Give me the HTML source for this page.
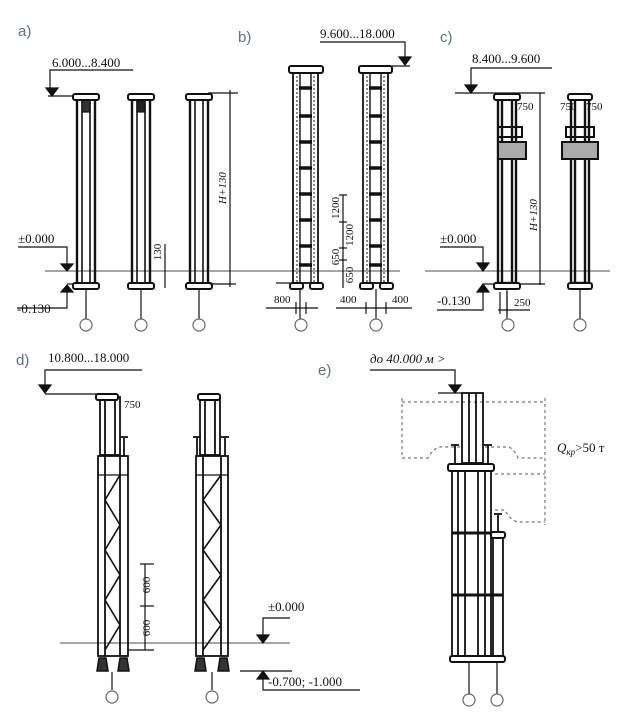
<!DOCTYPE html>
<html><head><meta charset="utf-8"><style>
html,body{margin:0;padding:0;background:#fff;}
svg{display:block}
.t{font-family:"Liberation Serif",serif;font-size:13px;fill:#111}
.s{font-family:"Liberation Serif",serif;font-size:11px;fill:#111}
.lb{font-family:"Liberation Sans",sans-serif;font-size:15px;fill:#5a6f8a}
</style></head><body>
<svg width="630" height="725" viewBox="0 0 630 725" xmlns="http://www.w3.org/2000/svg">
<g stroke="#111" fill="none" stroke-width="1.2">

<!-- ===== Panel a ===== -->
<text class="lb" x="18" y="36" stroke="none">a)</text>
<text class="t" x="52" y="67" stroke="none">6.000...8.400</text>
<path d="M133,70 H50 V90"/><path d="M46,88 L58,88 L52,96z" fill="#111"/>
<line x1="48" y1="96" x2="100" y2="96"/>
<line x1="45" y1="271" x2="290" y2="271" stroke-width="0.8"/>
<text class="t" x="18" y="243" stroke="none">±0.000</text>
<path d="M18,247 H67 V264"/><path d="M61,264 L73,264 L67,271z" fill="#111"/>
<text class="t" x="17" y="313" stroke="none">-0.130</text>
<path d="M17,308 H67 V292"/><path d="M61,292 L73,292 L67,285z" fill="#111"/>
<line x1="67" y1="284" x2="80" y2="284"/>
<g stroke-width="2.4">
 <rect x="77" y="98" width="18" height="186"/>
 <rect x="132" y="98" width="18" height="186"/>
 <rect x="190" y="98" width="18" height="186"/>
</g>
<g stroke-width="1.6">
 <line x1="82" y1="98" x2="82" y2="284"/><line x1="90" y1="98" x2="90" y2="284"/>
 <line x1="137" y1="98" x2="137" y2="284"/><line x1="145" y1="98" x2="145" y2="284"/>
 <line x1="195" y1="98" x2="195" y2="284"/><line x1="203" y1="98" x2="203" y2="284"/>
</g>
<rect x="82" y="100" width="8" height="12" fill="#333"/>
<rect x="137" y="100" width="8" height="12" fill="#222"/>
<g fill="#fff" stroke-width="2">
 <rect x="73" y="94" width="26" height="6" rx="2"/><rect x="128" y="94" width="26" height="6" rx="2"/><rect x="186" y="94" width="26" height="6" rx="2"/>
 <rect x="73" y="283" width="26" height="6" rx="2"/><rect x="128" y="283" width="26" height="6" rx="2"/><rect x="186" y="283" width="26" height="6" rx="2"/>
</g>
<line x1="86" y1="289" x2="86" y2="319"/><line x1="141" y1="289" x2="141" y2="319"/><line x1="199" y1="289" x2="199" y2="319"/>
<circle cx="86" cy="325" r="6" stroke="#666"/><circle cx="141" cy="325" r="6" stroke="#666"/><circle cx="199" cy="325" r="6" stroke="#666"/>
<line x1="208" y1="93" x2="238" y2="93"/><line x1="230" y1="90" x2="230" y2="287"/><line x1="210" y1="284" x2="236" y2="284"/>
<text class="s" transform="translate(226,188) rotate(-90)" text-anchor="middle" stroke="none" font-style="italic">H+130</text>
<line x1="165" y1="244" x2="165" y2="288"/>
<text class="s" transform="translate(161,252) rotate(-90)" text-anchor="middle" stroke="none">130</text>

<!-- ===== Panel b ===== -->
<text class="lb" x="238" y="42" stroke="none">b)</text>
<text class="t" x="320" y="38" stroke="none">9.600...18.000</text>
<path d="M320,42 H405 V58"/><path d="M399,57 L411,57 L405,65z" fill="#111"/>
<line x1="392" y1="66" x2="410" y2="66"/>
<g stroke-width="1.8">
 <rect x="293" y="72" width="25" height="211"/><rect x="363" y="72" width="25" height="211"/>
</g>
<g stroke-width="1" stroke-dasharray="2,2">
 <line x1="297" y1="72" x2="297" y2="283"/><line x1="314" y1="72" x2="314" y2="283"/>
 <line x1="367" y1="72" x2="367" y2="283"/><line x1="384" y1="72" x2="384" y2="283"/>
</g>
<g stroke-width="1.4">
 <line x1="300" y1="72" x2="300" y2="283"/><line x1="311" y1="72" x2="311" y2="283"/>
 <line x1="370" y1="72" x2="370" y2="283"/><line x1="381" y1="72" x2="381" y2="283"/>
</g>
<g stroke-width="3.5">
 <line x1="299" y1="88" x2="312" y2="88"/><line x1="299" y1="116" x2="312" y2="116"/><line x1="299" y1="142" x2="312" y2="142"/><line x1="299" y1="168" x2="312" y2="168"/><line x1="299" y1="194" x2="312" y2="194"/><line x1="299" y1="220" x2="312" y2="220"/><line x1="299" y1="246" x2="312" y2="246"/><line x1="299" y1="265" x2="312" y2="265"/>
 <line x1="369" y1="88" x2="382" y2="88"/><line x1="369" y1="116" x2="382" y2="116"/><line x1="369" y1="142" x2="382" y2="142"/><line x1="369" y1="168" x2="382" y2="168"/><line x1="369" y1="194" x2="382" y2="194"/><line x1="369" y1="220" x2="382" y2="220"/><line x1="369" y1="246" x2="382" y2="246"/><line x1="369" y1="265" x2="382" y2="265"/>
</g>
<g fill="#fff" stroke-width="2">
 <rect x="289" y="66" width="34" height="7" rx="2"/><rect x="359" y="66" width="33" height="7" rx="2"/>
 <rect x="290" y="283" width="13" height="6" rx="2"/><rect x="310" y="283" width="13" height="6" rx="2"/>
 <rect x="360" y="283" width="13" height="6" rx="2"/><rect x="380" y="283" width="13" height="6" rx="2"/>
</g>
<line x1="276" y1="283" x2="290" y2="283"/>
<line x1="290" y1="271" x2="400" y2="271" stroke-width="0.8"/>
<line x1="300" y1="289" x2="300" y2="319"/><line x1="376" y1="289" x2="376" y2="319"/>
<circle cx="301" cy="325" r="6" stroke="#666"/><circle cx="376" cy="325" r="6" stroke="#666"/>
<line x1="266" y1="308" x2="318" y2="308"/><line x1="296" y1="302" x2="296" y2="314"/><line x1="306" y1="302" x2="306" y2="314"/>
<text class="s" x="274" y="303" stroke="none">800</text>
<line x1="336" y1="308" x2="412" y2="308"/><line x1="366" y1="302" x2="366" y2="314"/><line x1="386" y1="302" x2="386" y2="314"/>
<text class="s" x="340" y="303" stroke="none">400</text><text class="s" x="392" y="303" stroke="none">400</text>
<line x1="343" y1="195" x2="343" y2="288"/>
<line x1="339" y1="195" x2="347" y2="195"/><line x1="339" y1="222" x2="347" y2="222"/><line x1="339" y1="248" x2="347" y2="248"/><line x1="339" y1="260" x2="347" y2="260"/>
<text class="s" transform="translate(339,208) rotate(-90)" text-anchor="middle" stroke="none">1200</text>
<text class="s" transform="translate(339,257) rotate(-90)" text-anchor="middle" stroke="none">650</text>
<text class="s" transform="translate(353,235) rotate(-90)" text-anchor="middle" stroke="none">1200</text>
<text class="s" transform="translate(353,275) rotate(-90)" text-anchor="middle" stroke="none">650</text>

<!-- ===== Panel c ===== -->
<text class="lb" x="440" y="42" stroke="none">c)</text>
<text class="t" x="472" y="63" stroke="none">8.400...9.600</text>
<path d="M552,68 H471 V86"/><path d="M465,85 L477,85 L471,93z" fill="#111"/>
<line x1="455" y1="93" x2="545" y2="93"/>
<line x1="540" y1="93" x2="540" y2="285"/><line x1="520" y1="284" x2="545" y2="284"/>
<text class="s" transform="translate(537,215) rotate(-90)" text-anchor="middle" stroke="none" font-style="italic">H+130</text>
<text class="t" x="440" y="243" stroke="none">±0.000</text>
<path d="M440,247 H483 V264"/><path d="M477,263 L489,263 L483,271z" fill="#111"/>
<text class="t" x="437" y="305" stroke="none">-0.130</text>
<path d="M437,310 H483 V292"/><path d="M477,292 L489,292 L483,284z" fill="#111"/>
<line x1="483" y1="284" x2="495" y2="284"/>
<line x1="425" y1="271" x2="610" y2="271" stroke-width="0.8"/>
<g stroke-width="2.4">
 <rect x="498" y="99" width="18" height="184"/><rect x="571" y="99" width="18" height="184"/>
 <line x1="502" y1="99" x2="502" y2="283"/><line x1="512" y1="99" x2="512" y2="283"/>
 <line x1="575" y1="99" x2="575" y2="283"/><line x1="585" y1="99" x2="585" y2="283"/>
</g>
<g stroke-width="2">
 <rect x="498" y="127" width="24" height="10"/><rect x="498" y="142" width="28" height="17" fill="#aaa"/>
 <rect x="566" y="127" width="28" height="10"/><rect x="562" y="142" width="36" height="17" fill="#aaa"/>
</g>
<g fill="#fff" stroke-width="2">
 <rect x="494" y="94" width="26" height="6" rx="2"/><rect x="568" y="94" width="24" height="6" rx="2"/>
 <rect x="494" y="283" width="26" height="6" rx="2"/><rect x="568" y="283" width="24" height="6" rx="2"/>
</g>
<text class="s" x="517" y="110" stroke="none">750</text>
<text class="s" x="560" y="110" stroke="none">750</text><text class="s" x="586" y="110" stroke="none">750</text>
<line x1="507" y1="289" x2="507" y2="319"/><line x1="580" y1="289" x2="580" y2="319"/>
<circle cx="508" cy="325" r="6" stroke="#666"/><circle cx="580" cy="325" r="6" stroke="#666"/>
<line x1="498" y1="310" x2="530" y2="310"/><line x1="500" y1="292" x2="500" y2="314"/><line x1="507" y1="292" x2="507" y2="314"/>
<text class="s" x="514" y="306" stroke="none">250</text>

<!-- ===== Panel d ===== -->
<text class="lb" x="16" y="365" stroke="none">d)</text>
<text class="t" x="48" y="362" stroke="none">10.800...18.000</text>
<path d="M142,370 H45 V386"/><path d="M39,385 L51,385 L45,393z" fill="#111"/>
<line x1="45" y1="394" x2="100" y2="394"/>
<g stroke-width="1.8">
 <rect x="100" y="397" width="20" height="58"/><line x1="105" y1="397" x2="105" y2="455"/><line x1="115" y1="397" x2="115" y2="455"/>
 <rect x="98" y="456" width="30" height="200"/>
 <line x1="105" y1="456" x2="105" y2="656"/><line x1="120" y1="456" x2="120" y2="656"/>
 <path d="M120,475 L105,500 L120,525 L105,550 L120,575 L105,600 L120,625 L105,650" stroke-width="1.6"/>
 <line x1="124" y1="438" x2="124" y2="456"/><line x1="120" y1="437" x2="128" y2="437"/>
 <rect x="200" y="397" width="20" height="58"/><line x1="205" y1="397" x2="205" y2="455"/><line x1="215" y1="397" x2="215" y2="455"/>
 <rect x="196" y="456" width="32" height="200"/>
 <line x1="203" y1="456" x2="203" y2="656"/><line x1="221" y1="456" x2="221" y2="656"/>
 <path d="M221,475 L203,500 L221,525 L203,550 L221,575 L203,600 L221,625 L203,650" stroke-width="1.6"/>
 <line x1="197" y1="438" x2="197" y2="456"/><line x1="193" y1="437" x2="201" y2="437"/>
 <line x1="225" y1="438" x2="225" y2="456"/><line x1="221" y1="437" x2="229" y2="437"/>
</g>
<line x1="98" y1="475" x2="128" y2="475"/><line x1="196" y1="475" x2="228" y2="475"/>
<g fill="#fff" stroke-width="2">
 <rect x="96" y="394" width="22" height="6" rx="2"/><rect x="198" y="394" width="22" height="6" rx="2"/>
</g>
<g fill="#333" stroke-width="1.5">
 <path d="M97,671 L99,658 L106,658 L108,671z"/><path d="M118,671 L120,658 L127,658 L129,671z"/>
 <path d="M195,671 L197,658 L204,658 L206,671z"/><path d="M218,671 L220,658 L227,658 L229,671z"/>
</g>
<line x1="60" y1="643" x2="290" y2="643" stroke-width="0.8"/>
<line x1="112" y1="672" x2="112" y2="690"/><line x1="212" y1="672" x2="212" y2="690"/>
<circle cx="112" cy="697" r="6" stroke="#666"/><circle cx="212" cy="697" r="6" stroke="#666"/>
<line x1="145" y1="564" x2="145" y2="650"/><line x1="140" y1="564" x2="154" y2="564"/><line x1="140" y1="606" x2="154" y2="606"/><line x1="128" y1="650" x2="154" y2="650"/>
<text class="s" transform="translate(150,585) rotate(-90)" text-anchor="middle" stroke="none">600</text>
<text class="s" transform="translate(150,628) rotate(-90)" text-anchor="middle" stroke="none">600</text>
<text class="s" x="124" y="408" stroke="none">750</text>
<text class="t" x="268" y="611" stroke="none">±0.000</text>
<path d="M290,618 H263 V636"/><path d="M257,635 L269,635 L263,643z" fill="#111"/>
<line x1="240" y1="671" x2="292" y2="671"/>
<path d="M263,679 V690 H360"/><path d="M257,679 L269,679 L263,671z" fill="#111"/>
<text class="t" x="268" y="686" stroke="none">-0.700; -1.000</text>

<!-- ===== Panel e ===== -->
<text class="lb" x="318" y="375" stroke="none">e)</text>
<text class="t" x="370" y="363" stroke="none" font-style="italic">до 40.000 м &gt;</text>
<path d="M370,370 H455 V386"/><path d="M449,385 L461,385 L455,393z" fill="#111"/>
<line x1="438" y1="393" x2="462" y2="393"/>
<g stroke-dasharray="3,3" stroke="#777">
 <line x1="402" y1="402" x2="545" y2="402"/><line x1="402" y1="398" x2="402" y2="458"/>
 <path d="M402,458 H428 Q435,445 445,447 H460"/><path d="M485,447 H505 Q512,445 518,458 H545"/>
 <line x1="545" y1="398" x2="545" y2="525"/><line x1="495" y1="474" x2="545" y2="474"/>
 <path d="M495,510 H505 Q510,520 518,522 H545"/>
</g>
<g stroke-width="1.8">
 <rect x="462" y="393" width="21" height="70"/><line x1="469" y1="393" x2="469" y2="463"/><line x1="476" y1="393" x2="476" y2="463"/>
 <rect x="452" y="471" width="39" height="187"/>
 <line x1="458" y1="471" x2="458" y2="658"/><line x1="465" y1="471" x2="465" y2="658"/><line x1="478" y1="471" x2="478" y2="658"/><line x1="485" y1="471" x2="485" y2="658"/>
 <rect x="493" y="537" width="10" height="121"/>
 <line x1="455" y1="445" x2="455" y2="467"/><line x1="451" y1="445" x2="459" y2="445"/>
 <line x1="488" y1="445" x2="488" y2="467"/><line x1="484" y1="445" x2="492" y2="445"/>
 <line x1="498" y1="515" x2="498" y2="533"/><line x1="494" y1="514" x2="502" y2="514"/>
</g>
<g stroke-width="3">
 <line x1="452" y1="533" x2="491" y2="533"/><line x1="452" y1="595" x2="503" y2="595"/>
</g>
<g fill="#fff" stroke-width="2">
 <rect x="448" y="464" width="46" height="7" rx="2"/>
 <rect x="491" y="532" width="14" height="6" rx="2"/>
 <rect x="450" y="656" width="55" height="6" rx="2"/>
</g>
<line x1="469" y1="662" x2="469" y2="694"/><line x1="497" y1="662" x2="497" y2="694"/>
<circle cx="469" cy="700" r="6" stroke="#666"/><circle cx="497" cy="700" r="6" stroke="#666"/>
<text class="t" x="557" y="452" stroke="none" font-style="italic">Q<tspan font-size="9" dy="3">кр</tspan><tspan dy="-3" font-style="normal">&gt;50 т</tspan></text>
</g>
</svg>
</body></html>
